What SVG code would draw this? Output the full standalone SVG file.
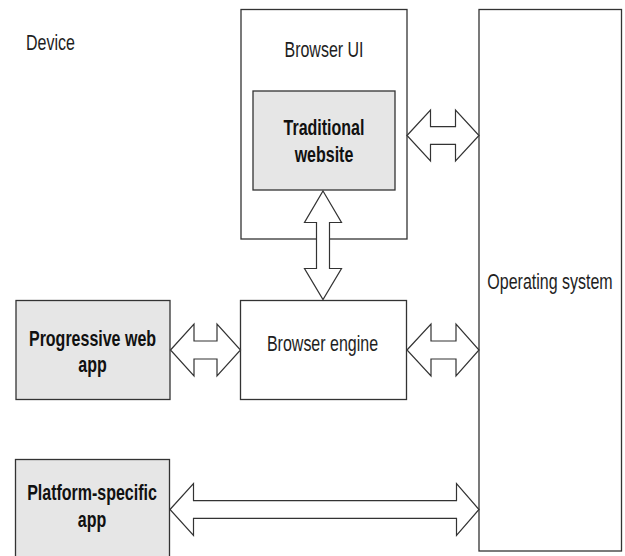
<svg xmlns="http://www.w3.org/2000/svg" width="625" height="556" viewBox="0 0 625 556">
<style>
.box{fill:#ffffff;stroke:#333333;stroke-width:1.3}
.gray{fill:#e6e6e6;stroke:#333333;stroke-width:1.3}
.arr{fill:#ffffff;stroke:#333333;stroke-width:1.2;stroke-linejoin:miter}
text{font-family:"Liberation Sans",Arial,sans-serif;font-size:16px;fill:#1e1e1e}
.c{text-anchor:middle}
.b{font-weight:bold;fill:#111111}
</style>
<rect width="625" height="556" fill="#ffffff"/>
<g id="device-label">
<text transform="translate(26,50) scale(1,1.38)">Device</text>
</g>
<g id="browser-ui">
<rect class="box" x="241" y="9.5" width="166" height="229.5"/>
<text class="c" transform="translate(324,56.5) scale(1,1.38)">Browser UI</text>
</g>
<g id="traditional-website">
<rect class="gray" x="253" y="91" width="142" height="99"/>
<text class="c b" transform="translate(324,135) scale(1,1.38)">Traditional</text>
<text class="c b" transform="translate(324,161.5) scale(1,1.38)">website</text>
</g>
<g id="operating-system">
<rect class="box" x="479" y="9.5" width="142.5" height="541.5"/>
<text class="c" transform="translate(550,289) scale(1,1.38)">Operating system</text>
</g>
<g id="browser-engine">
<rect class="box" x="240.5" y="300.5" width="166" height="99"/>
<text class="c" transform="translate(322.5,350.5) scale(1,1.38)">Browser engine</text>
</g>
<g id="progressive-web-app">
<rect class="gray" x="16" y="300.5" width="154" height="99"/>
<text class="c b" transform="translate(92.5,345.5) scale(1,1.38)">Progressive web</text>
<text class="c b" transform="translate(92.5,372) scale(1,1.38)">app</text>
</g>
<g id="platform-specific-app">
<rect class="gray" x="15.5" y="459.5" width="154" height="120"/>
<text class="c b" transform="translate(92,500) scale(1,1.38)">Platform-specific</text>
<text class="c b" transform="translate(92,526.5) scale(1,1.38)">app</text>
</g>
<g id="connectors">
<polygon class="arr" points="407,135.5 430.5,110 430.5,126.7 455.5,126.7 455.5,110 479,135.5 455.5,161 455.5,144.3 430.5,144.3 430.5,161"/>
<polygon class="arr" points="323,191 341.5,222.5 329.5,222.5 329.5,268.5 341.5,268.5 323,299.5 304.5,268.5 316.5,268.5 316.5,222.5 304.5,222.5"/>
<polygon class="arr" points="170.5,350 194,324 194,341 217,341 217,324 240.5,350 217,376 217,359 194,359 194,376"/>
<polygon class="arr" points="407,350 431,324 431,341 456,341 456,324 479,350 456,376 456,359 431,359 431,376"/>
<polygon class="arr" points="170,509.5 193.5,483.5 193.5,500.7 456.5,500.7 456.5,483.5 479,509.5 456.5,535.5 456.5,518.3 193.5,518.3 193.5,535.5"/>
</g>
</svg>
